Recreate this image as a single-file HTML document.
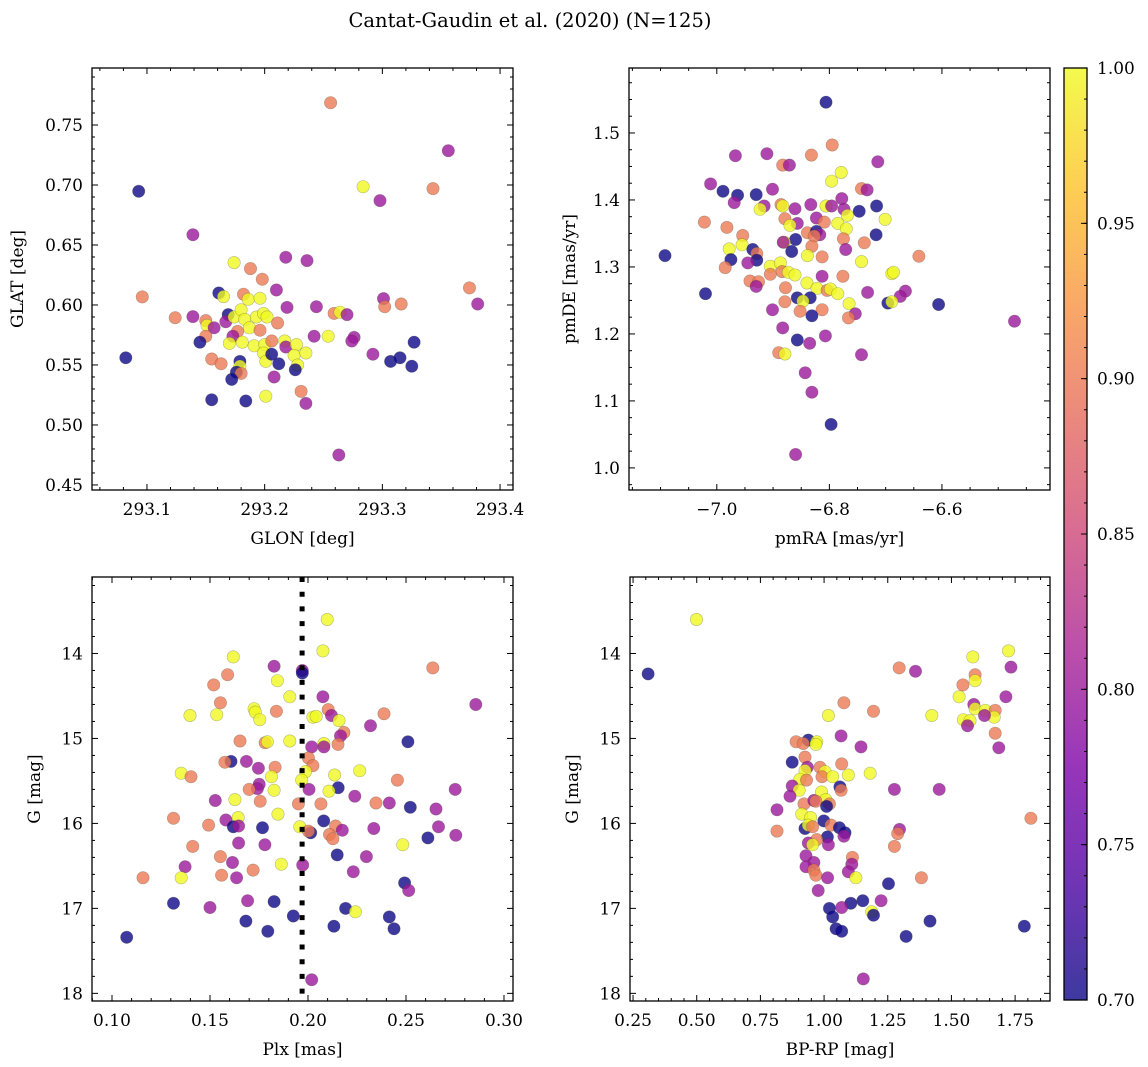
<!DOCTYPE html>
<html><head><meta charset="utf-8">
<style>
html,body{margin:0;padding:0;background:#fff;}
svg{display:block;font-family:"DejaVu Serif","Liberation Serif",serif;}
</style></head>
<body>
<svg id="fig" width="1148" height="1067" viewBox="0 0 1148 1067" xmlns="http://www.w3.org/2000/svg">
<rect width="1148" height="1067" fill="#fff"/>
<text x="530" y="27" font-size="19.5" text-anchor="middle">Cantat-Gaudin et al. (2020) (N=125)</text>
<defs>
<linearGradient id="plasma" x1="0" y1="1" x2="0" y2="0">
<stop offset="0" stop-color="#0d0887"/><stop offset="0.125" stop-color="#4c02a1"/>
<stop offset="0.25" stop-color="#7e03a8"/><stop offset="0.375" stop-color="#a92395"/>
<stop offset="0.5" stop-color="#cc4778"/><stop offset="0.625" stop-color="#e56b5d"/>
<stop offset="0.75" stop-color="#f89441"/><stop offset="0.875" stop-color="#fdc328"/>
<stop offset="1" stop-color="#f0f921"/></linearGradient>
</defs>
</svg>
<script>
// ---- Panel 1: GLON / GLAT ----
const glon=[293.256,293.356,293.2836,293.343,293.298,293.093,293.139,293.174,293.218,293.236,293.188,293.198,293.210,293.096,293.161,293.165,293.182,293.186,293.196,293.219,293.244,293.301,293.302,293.316,293.374,293.381,293.124,293.139,293.150,293.151,293.157,293.150,293.145,293.169,293.167,293.174,293.180,293.183,293.187,293.193,293.199,293.202,293.211,293.196,293.177,293.173,293.170,293.181,293.191,293.200,293.206,293.199,293.201,293.206,293.212,293.217,293.218,293.227,293.225,293.235,293.228,293.226,293.242,293.254,293.259,293.264,293.270,293.276,293.274,293.292,293.307,293.315,293.327,293.325,293.082,293.155,293.163,293.179,293.179,293.176,293.180,293.172,293.208,293.155,293.184,293.201,293.231,293.235,293.263];
const glat=[0.7686,0.7286,0.6986,0.697,0.687,0.6947,0.6586,0.6353,0.6397,0.637,0.6303,0.6214,0.6125,0.6067,0.610,0.607,0.609,0.6047,0.6056,0.598,0.5986,0.6053,0.5986,0.6008,0.6142,0.6008,0.5894,0.5903,0.587,0.583,0.581,0.574,0.569,0.592,0.586,0.590,0.596,0.588,0.581,0.590,0.593,0.590,0.585,0.579,0.578,0.574,0.568,0.569,0.566,0.567,0.570,0.560,0.553,0.559,0.551,0.570,0.565,0.567,0.558,0.560,0.550,0.546,0.574,0.574,0.593,0.594,0.592,0.573,0.570,0.559,0.553,0.556,0.569,0.549,0.556,0.555,0.551,0.553,0.549,0.544,0.543,0.538,0.540,0.521,0.520,0.524,0.528,0.518,0.475];
const prob1=[0.9,0.8,1,0.9,0.8,0.7,0.8,1,0.8,0.8,0.9,0.9,0.8,0.9,0.7,1,0.9,1,1,0.8,0.8,0.8,0.9,0.9,0.9,0.8,0.9,0.8,0.9,1,0.8,0.9,0.7,0.7,0.8,1,1,1,1,1,1,1,0.9,0.9,0.9,0.8,1,1,1,1,0.9,1,1,0.7,0.7,1,0.8,1,1,1,1,0.7,0.8,1,0.9,1,0.8,0.8,0.8,0.8,0.7,0.7,0.7,0.7,0.7,0.9,0.9,0.7,1,0.7,0.9,0.7,0.8,0.7,0.7,1,0.9,0.8,0.8];
// ---- Panel 2: pmRA / pmDE ----
const pmra=[-6.806,-6.795,-6.967,-6.911,-6.832,-6.883,-6.871,-6.714,-6.779,-6.796,-7.011,-6.989,-6.963,-6.930,-6.901,-6.969,-6.743,-6.733,-6.778,-6.833,-6.861,-6.886,-6.883,-6.916,-6.923,-6.806,-6.796,-6.774,-6.747,-6.716,-6.768,-6.701,-6.879,-6.857,-6.870,-6.823,-6.809,-6.785,-6.770,-7.022,-6.982,-6.954,-6.839,-6.823,-6.817,-6.827,-6.717,-6.775,-6.860,-6.880,-6.882,-6.738,-6.831,-6.955,-6.978,-6.936,-6.929,-6.867,-6.771,-6.839,-6.813,-6.641,-7.092,-6.975,-6.929,-6.945,-6.985,-6.905,-6.887,-6.905,-6.884,-6.873,-6.861,-6.813,-6.776,-6.743,-6.689,-6.686,-6.941,-6.926,-6.930,-6.840,-6.822,-6.804,-6.798,-6.785,-6.878,-7.020,-6.732,-6.665,-6.674,-6.696,-6.689,-6.606,-6.765,-6.857,-6.834,-6.847,-6.879,-6.852,-6.813,-6.831,-6.754,-6.766,-6.901,-6.471,-6.883,-6.857,-6.807,-6.835,-6.890,-6.879,-6.743,-6.843,-6.831,-6.797,-6.860];
const pmde=[1.546,1.482,1.466,1.469,1.467,1.452,1.452,1.457,1.441,1.428,1.424,1.413,1.407,1.408,1.416,1.396,1.417,1.415,1.402,1.393,1.387,1.393,1.391,1.391,1.386,1.391,1.391,1.386,1.383,1.391,1.377,1.371,1.372,1.365,1.362,1.373,1.367,1.365,1.357,1.367,1.359,1.347,1.351,1.353,1.348,1.346,1.348,1.342,1.341,1.337,1.337,1.336,1.331,1.333,1.327,1.326,1.320,1.323,1.326,1.317,1.315,1.316,1.317,1.311,1.310,1.306,1.299,1.301,1.306,1.289,1.293,1.292,1.288,1.286,1.286,1.308,1.290,1.292,1.279,1.278,1.271,1.276,1.268,1.265,1.267,1.260,1.269,1.260,1.262,1.264,1.256,1.246,1.248,1.244,1.245,1.254,1.254,1.249,1.248,1.234,1.236,1.227,1.230,1.224,1.236,1.219,1.209,1.191,1.197,1.186,1.172,1.170,1.169,1.142,1.113,1.065,1.020];
const prob2=[0.7,0.9,0.8,0.8,0.9,0.9,0.8,0.8,1,1,0.8,0.7,0.7,0.7,0.8,0.8,0.9,0.8,0.8,0.8,0.8,0.9,1,0.8,1,1,0.8,0.8,0.7,0.7,1,1,0.9,0.8,1,0.8,0.9,1,1,0.9,0.9,0.9,0.9,0.7,0.8,0.9,0.7,0.9,0.7,1,0.8,0.9,0.9,1,1,0.7,0.9,0.7,0.8,1,0.9,0.9,0.7,0.7,0.7,0.8,0.9,1,1,0.9,0.9,1,1,0.8,0.9,1,1,1,0.9,0.9,0.8,1,1,0.9,1,1,0.9,0.7,0.8,0.8,0.8,0.7,1,0.7,1,0.7,0.7,1,0.9,0.9,0.9,0.7,0.8,0.9,0.8,0.8,0.8,0.7,0.8,0.8,0.9,1,0.8,0.8,0.8,0.7,0.8];
// ---- Panel 3: Plx / G ----
const plx=[0.2098,0.2076,0.1619,0.1827,0.1971,0.1971,0.1590,0.1519,0.1844,0.1907,0.2076,0.1553,0.2637,0.2856,0.1398,0.1534,0.1725,0.1731,0.1754,0.1839,0.2103,0.2120,0.2025,0.2042,0.2158,0.2388,0.2319,0.2183,0.2166,0.1653,0.1781,0.1793,0.1907,0.2081,0.2081,0.2019,0.2153,0.2510,0.1607,0.1576,0.1686,0.1747,0.1832,0.2002,0.2025,0.1988,0.2264,0.2136,0.1353,0.1403,0.1814,0.1968,0.2456,0.1751,0.1742,0.1700,0.1827,0.2005,0.2154,0.2107,0.2751,0.1527,0.1627,0.1756,0.2239,0.1951,0.2066,0.2347,0.2415,0.2522,0.2653,0.1314,0.1644,0.1847,0.2080,0.1493,0.1581,0.1619,0.1646,0.1768,0.1958,0.2014,0.2002,0.2141,0.2175,0.2110,0.2127,0.2336,0.2666,0.2612,0.2754,0.1646,0.1780,0.2483,0.1412,0.2149,0.2298,0.1553,0.1615,0.1864,0.1973,0.1373,0.1559,0.1636,0.1720,0.1353,0.1158,0.2231,0.2493,0.2514,0.1314,0.1500,0.1692,0.1827,0.2192,0.2242,0.1925,0.1683,0.1795,0.2132,0.2415,0.2439,0.1075,0.2019];
const gmag3=[13.60,13.97,14.04,14.15,14.20,14.23,14.25,14.37,14.32,14.51,14.51,14.58,14.17,14.60,14.73,14.72,14.65,14.69,14.78,14.68,14.66,14.73,14.75,14.74,14.79,14.71,14.85,14.93,14.97,15.03,15.05,15.04,15.03,15.06,15.10,15.10,15.07,15.04,15.27,15.28,15.27,15.35,15.34,15.23,15.32,15.39,15.38,15.43,15.41,15.45,15.45,15.49,15.49,15.54,15.59,15.60,15.61,15.60,15.58,15.62,15.60,15.73,15.72,15.74,15.68,15.77,15.77,15.76,15.76,15.81,15.83,15.94,15.93,15.89,15.97,16.02,15.96,16.04,16.03,16.05,16.04,16.11,16.09,16.03,16.08,16.13,16.18,16.06,16.04,16.17,16.14,16.23,16.25,16.25,16.27,16.37,16.39,16.39,16.46,16.48,16.49,16.51,16.61,16.64,16.55,16.64,16.64,16.57,16.70,16.79,16.94,16.99,16.91,16.92,17.00,17.04,17.09,17.15,17.27,17.21,17.10,17.24,17.34,17.84];
const prob3=[1,1,1,0.8,0.8,0.7,0.9,0.9,1,1,0.8,0.9,0.9,0.8,1,1,1,1,1,0.9,0.9,0.8,1,1,1,0.9,0.8,0.9,0.8,0.9,0.9,1,1,1,0.8,0.8,0.9,0.7,0.7,0.9,0.8,0.8,0.9,0.9,0.9,1,1,1,1,0.9,1,1,0.9,0.8,0.8,0.9,1,0.8,0.7,1,0.8,0.8,1,0.9,0.8,0.9,0.9,0.9,0.8,0.7,0.8,0.9,1,1,0.7,0.9,0.8,0.7,0.8,0.7,1,0.7,0.9,0.9,0.8,0.9,0.9,0.8,0.8,0.7,0.8,0.8,0.8,1,0.9,0.7,0.8,0.9,0.8,1,0.8,0.8,0.9,0.8,0.9,1,0.9,0.8,0.7,0.8,0.7,0.8,0.8,0.7,0.7,1,0.7,0.7,0.7,0.7,0.7,0.7,0.7,0.8];
const plxLine=[0.197];
// ---- Panel 4: BP-RP / G ----
const bprp=[0.499,0.309,1.724,1.584,1.734,1.295,1.359,1.593,1.593,1.545,1.530,1.714,1.078,1.194,1.017,1.423,1.588,1.593,1.633,1.672,1.668,1.630,1.547,1.573,1.563,1.672,1.686,1.067,1.145,0.890,0.938,0.918,0.971,0.968,0.875,0.925,0.934,0.925,0.984,1.004,0.992,1.034,1.095,1.069,1.181,0.905,0.931,0.875,0.902,0.866,1.062,1.067,1.276,1.452,0.990,1.007,1.021,0.921,0.960,0.968,1.010,0.815,0.912,0.947,0.999,1.812,0.925,0.938,0.955,1.027,1.060,1.082,1.078,0.815,1.013,1.296,1.289,0.971,0.938,0.955,1.017,1.276,0.929,1.111,1.109,0.960,0.929,0.960,0.968,1.095,1.014,1.125,1.382,1.253,0.977,1.152,1.224,1.105,1.021,1.069,1.187,1.194,1.034,1.416,1.047,1.069,1.786,1.322,1.154];
const gmag4=[13.60,14.24,13.97,14.04,14.16,14.17,14.21,14.25,14.32,14.37,14.51,14.51,14.58,14.68,14.73,14.73,14.60,14.65,14.67,14.67,14.75,14.73,14.78,14.79,14.85,14.94,15.11,14.97,15.10,15.04,15.02,15.06,15.04,15.07,15.28,15.22,15.34,15.38,15.34,15.39,15.45,15.45,15.43,15.30,15.41,15.48,15.49,15.56,15.61,15.68,15.57,15.61,15.60,15.60,15.63,15.72,15.77,15.77,15.73,15.74,15.80,15.84,15.89,15.93,15.97,15.94,16.06,16.02,16.04,16.02,16.05,16.11,16.15,16.09,16.16,16.07,16.12,16.19,16.23,16.25,16.25,16.27,16.38,16.40,16.48,16.46,16.51,16.55,16.61,16.57,16.64,16.64,16.64,16.71,16.79,16.91,16.91,16.94,17.00,16.99,17.04,17.08,17.10,17.15,17.24,17.27,17.21,17.33,17.83];
const prob4=[1,0.7,1,1,0.8,0.9,0.8,0.9,1,0.9,1,0.8,0.9,0.9,1,1,0.8,1,1,0.9,1,0.8,1,1,0.8,0.9,0.8,0.8,0.8,0.9,0.7,0.9,1,1,0.7,0.9,0.8,1,0.9,1,0.9,1,1,0.9,1,1,0.9,0.8,1,0.8,0.7,0.9,0.8,0.8,1,1,0.9,0.9,0.8,0.9,0.7,0.8,1,1,0.7,0.9,0.7,1,0.9,0.9,0.7,0.7,0.8,0.9,0.7,0.8,0.9,0.9,0.8,1,0.8,0.9,0.8,0.9,0.8,0.8,0.8,0.9,0.9,0.8,0.8,1,0.9,0.7,0.8,0.7,0.8,0.7,0.7,0.8,1,0.7,0.7,0.7,0.7,0.7,0.7,0.7,0.8];
// ---- Colorbar ----
const cbTicks=[0.70,0.75,0.80,0.85,0.90,0.95,1.00];
const cbLabels=["0.70","0.75","0.80","0.85","0.90","0.95","1.00"];
const vmin=0.70, vmax=1.00;

const NS="http://www.w3.org/2000/svg";
const svg=document.getElementById('fig');
const FS=17;
function mk(tag,attrs,parent){const e=document.createElementNS(NS,tag);for(const k in attrs)e.setAttribute(k,attrs[k]);(parent||svg).appendChild(e);return e;}
const stops=[[0,13,8,135],[0.125,76,2,161],[0.25,126,3,168],[0.375,169,35,149],[0.5,204,71,120],[0.625,229,107,93],[0.75,248,148,65],[0.875,253,195,40],[1,240,249,33]];
function plasma(t){t=Math.max(0,Math.min(1,t));for(let i=1;i<stops.length;i++){if(t<=stops[i][0]){const a=stops[i-1],b=stops[i],f=(t-a[0])/(b[0]-a[0]);return `rgb(${Math.round(a[1]+f*(b[1]-a[1]))},${Math.round(a[2]+f*(b[2]-a[2]))},${Math.round(a[3]+f*(b[3]-a[3]))})`;}}return 'rgb(240,249,33)';}
function fmt(v,d){const s=Math.abs(v).toFixed(d);return (v<0?'\u2212':'')+s;}

function panel(cfg){
  const {name,L,R,T,B,xd,yd,yInv,xMaj,xMin,yMaj,yMin,xDec,yDec,xlab,ylab,ylabX,xs,ys,ps}=cfg;
  const g=mk('g',{});
  
  
  const sx=v=>L+(v-xd[0])/(xd[1]-xd[0])*(R-L);
  const sy=v=>yInv? T+(v-yd[0])/(yd[1]-yd[0])*(B-T) : B-(v-yd[0])/(yd[1]-yd[0])*(B-T);
  const cid='clip-'+name;
  const cp=mk('clipPath',{id:cid},g);mk('rect',{x:L,y:T,width:R-L,height:B-T},cp);
  const pts=mk('g',{'clip-path':`url(#${cid})`},g);
  
  
  for(let i=0;i<xs.length;i++){
    const c=mk('circle',{cx:sx(xs[i]).toFixed(1),cy:sy(ys[i]).toFixed(1),r:6.2,fill:plasma((ps[i]-vmin)/(vmax-vmin)),'fill-opacity':0.8,stroke:'rgba(60,60,40,0.35)','stroke-width':0.6},pts);
    
    
  }
  if(cfg.vline){
    for(const v of cfg.vline){
      const ln=mk('line',{x1:sx(v),x2:sx(v),y1:T,y2:B,stroke:'#000','stroke-width':5,'stroke-dasharray':'5 9.7'},pts);
      
      
    }
  }
  const ax=mk('g',{stroke:'#000','stroke-width':1},g);
  
  
  const eps=1e-9;
  const x0=Math.ceil(xd[0]/xMin-eps)*xMin;
  for(let v=x0; v<=xd[1]+eps; v+=xMin){
    const isMaj=Math.abs(v/xMaj-Math.round(v/xMaj))<1e-4; const l=isMaj?6:3; const x=sx(v);
    mk('line',{x1:x,x2:x,y1:B,y2:B-l},ax);mk('line',{x1:x,x2:x,y1:T,y2:T+l},ax);
    if(isMaj){const t=mk('text',{x:x,y:B+25,'font-size':FS,'text-anchor':'middle',stroke:'none',fill:'#000'},g);t.textContent=fmt(v,xDec);}
  }
  const y0=Math.ceil(Math.min(yd[0],yd[1])/yMin-eps)*yMin; const y1=Math.max(yd[0],yd[1]);
  for(let v=y0; v<=y1+eps; v+=yMin){
    const isMaj=Math.abs(v/yMaj-Math.round(v/yMaj))<1e-4; const l=isMaj?6:3; const y=sy(v);
    mk('line',{x1:L,x2:L+l,y1:y,y2:y},ax);mk('line',{x1:R,x2:R-l,y1:y,y2:y},ax);
    if(isMaj){const t=mk('text',{x:L-9,y:y+6,'font-size':FS,'text-anchor':'end',stroke:'none',fill:'#000'},g);t.textContent=fmt(v,yDec);}
  }
  mk('rect',{x:L,y:T,width:R-L,height:B-T,fill:'none',stroke:'#000','stroke-width':1.3},g);
  const xl=mk('text',{x:(L+R)/2,y:B+54,'font-size':FS,'text-anchor':'middle'},g);xl.textContent=xlab;
  
  const cy=(T+B)/2;
  const yl=mk('text',{x:ylabX,y:cy,'font-size':FS,'text-anchor':'middle',transform:`rotate(-90 ${ylabX} ${cy})`},g);yl.textContent=ylab;
  
}

panel({name:'glon-glat-panel',L:92,R:513,T:68,B:490,xd:[293.0533,293.411],yd:[0.4458,0.7975],xMaj:0.1,xMin:0.02,yMaj:0.05,yMin:0.01,xDec:1,yDec:2,xlab:'GLON [deg]',ylab:'GLAT [deg]',ylabX:23,xs:glon,ys:glat,ps:prob1});
panel({name:'proper-motion-panel',L:629,R:1050,T:68,B:490,xd:[-7.156,-6.408],yd:[0.967,1.597],xMaj:0.2,xMin:0.05,yMaj:0.1,yMin:0.025,xDec:1,yDec:1,xlab:'pmRA [mas/yr]',ylab:'pmDE [mas/yr]',ylabX:575,xs:pmra,ys:pmde,ps:prob2});
panel({name:'parallax-magnitude-panel',L:92,R:513,T:577,B:1001,xd:[0.0898,0.3046],yd:[13.10,18.09],yInv:true,xMaj:0.05,xMin:0.01,yMaj:1,yMin:0.2,xDec:2,yDec:0,xlab:'Plx [mas]',ylab:'G [mag]',ylabX:40,xs:plx,ys:gmag3,ps:prob3,vline:plxLine});
panel({name:'color-magnitude-panel',L:630,R:1050,T:577,B:1001,xd:[0.238,1.887],yd:[13.10,18.09],yInv:true,xMaj:0.25,xMin:0.05,yMaj:1,yMin:0.2,xDec:2,yDec:0,xlab:'BP-RP [mag]',ylab:'G [mag]',ylabX:578,xs:bprp,ys:gmag4,ps:prob4});

// colorbar
(function(){
  const L=1064,R=1087,T=68,B=1000;
  const g=mk('g',{});
  
  
  mk('rect',{x:L,y:T,width:R-L,height:B-T,fill:'url(#plasma)','fill-opacity':0.8},g);
  const sy=v=>B-(v-vmin)/(vmax-vmin)*(B-T);
  for(let v=0.70; v<=1.0001; v+=0.01){const y=sy(v);mk('line',{x1:R,x2:R-3,y1:y,y2:y,stroke:'#000','stroke-width':1},g);}
  cbTicks.forEach((v,i)=>{const y=sy(v);mk('line',{x1:R,x2:R-6,y1:y,y2:y,stroke:'#000','stroke-width':1},g);
    const t=mk('text',{x:R+10,y:y+6,'font-size':FS},g);t.textContent=cbLabels[i];
    });
  mk('rect',{x:L,y:T,width:R-L,height:B-T,fill:'none',stroke:'#000','stroke-width':1.3},g);
})();
</script>
</body></html>
